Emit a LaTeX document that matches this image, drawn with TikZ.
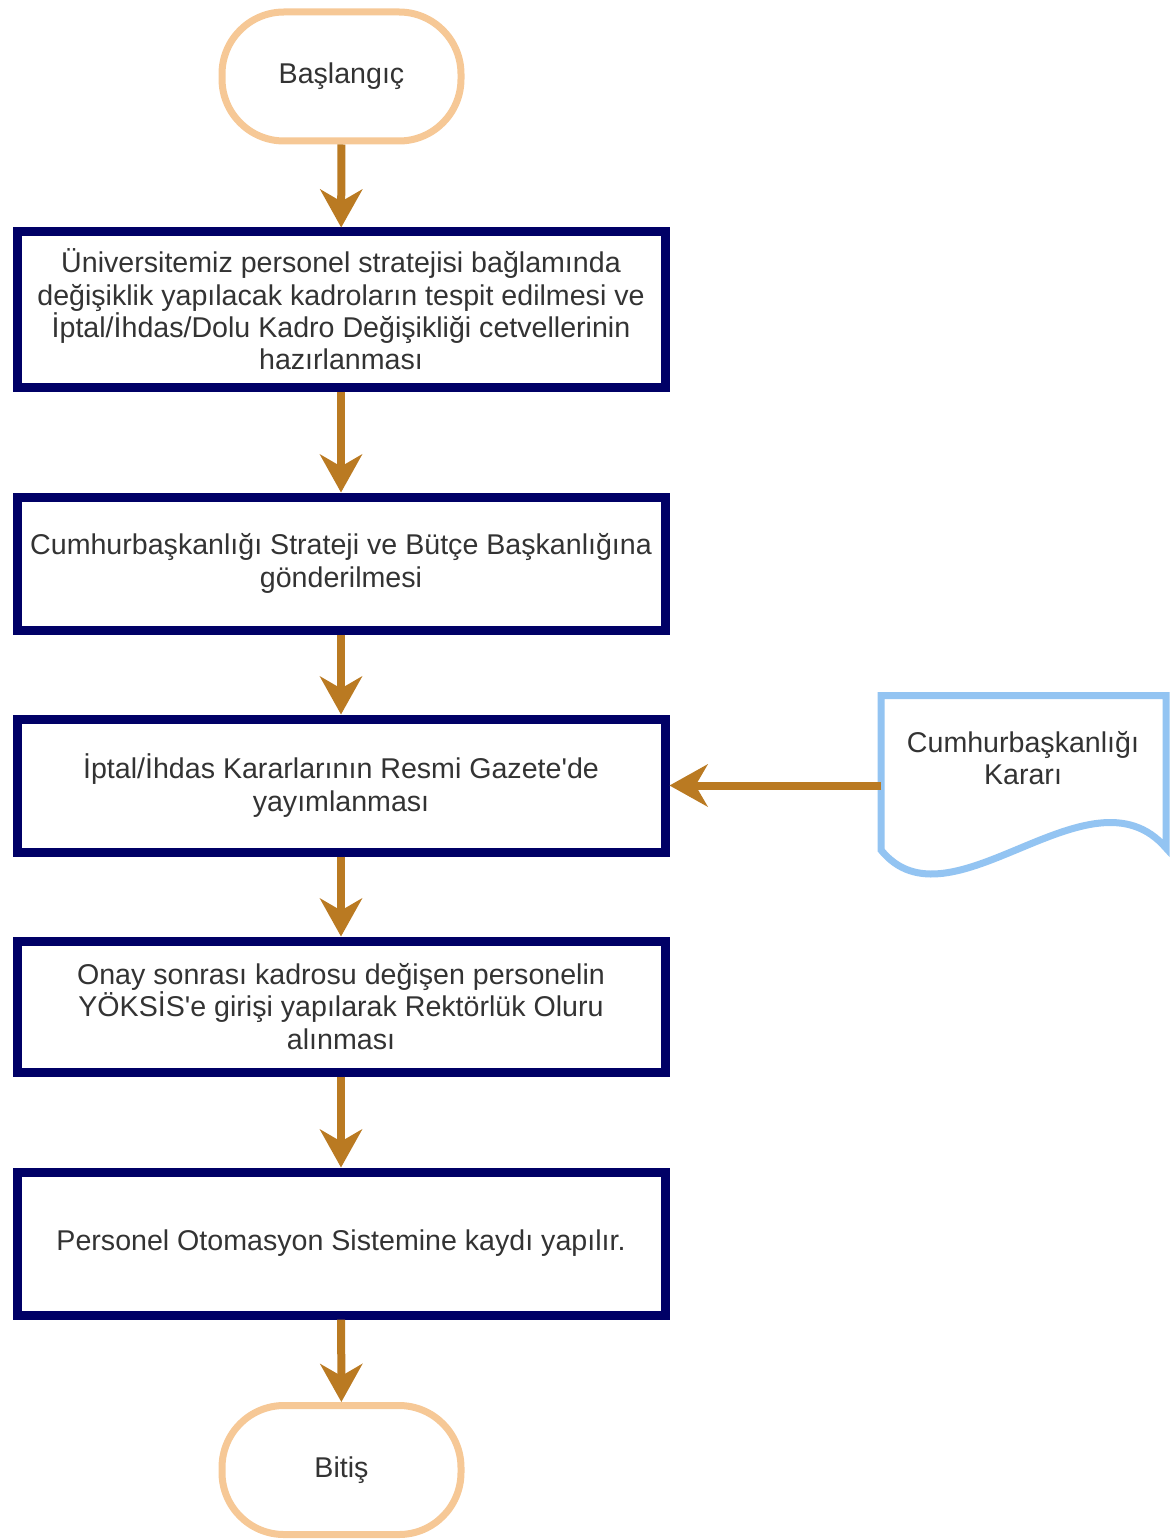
\documentclass[tikz,border=0pt]{standalone}
\usepackage{fontspec}
\setmainfont{Liberation Sans}
\usetikzlibrary{arrows.meta}
\definecolor{navy}{HTML}{000066}
\definecolor{arr}{HTML}{BA7A22}
\definecolor{termc}{HTML}{F6C896}
\definecolor{docc}{HTML}{93C4F2}
\definecolor{txt}{HTML}{333333}
\begin{document}
\begin{tikzpicture}[x=0.5pt,y=-0.5pt,
  every node/.style={font=\fontsize{14.3}{16.2}\selectfont, text=txt, align=center},
  procbox/.style={draw=navy, line width=4.5pt, fill=white, minimum width=324pt, inner sep=0pt},
  term/.style={draw=termc, line width=3.5pt, fill=white, rounded corners=31pt, minimum width=119.5pt, minimum height=64.5pt, inner sep=0pt},
  flow/.style={draw=arr, line width=4pt, -{Stealth[length=19pt,width=21pt,inset=6pt]}},
  docshape/.style={draw=docc, line width=3.5pt, fill=white}]
\useasboundingbox (0,0) rectangle (1172,1540);

\node[term] (start) at (341.5,76.5) {Başlangıç};
\node[procbox, minimum height=77.5pt] (b1) at (341,309.5) {Üniversitemiz personel stratejisi bağlamında\\değişiklik yapılacak kadroların tespit edilmesi ve\\İptal/İhdas/Dolu Kadro Değişikliği cetvellerinin\\hazırlanması};
\node[procbox, minimum height=66.5pt] (b2) at (341,563.5) {Cumhurbaşkanlığı Strateji ve Bütçe Başkanlığına\\gönderilmesi};
\node[procbox, minimum height=66.5pt] (b3) at (341,785.5) {İptal/İhdas Kararlarının Resmi Gazete\textquotesingle de\\yayımlanması};
\node[procbox, minimum height=65.5pt] (b4) at (341,1006.5) {Onay sonrası kadrosu değişen personelin\\YÖKSİS\textquotesingle e girişi yapılarak Rektörlük Oluru\\alınması};
\node[procbox, minimum height=71.5pt] (b5) at (341,1243.5) {Personel Otomasyon Sistemine kaydı yapılır.};
\node[term] (end) at (341.5,1470) {Bitiş};

\draw[docshape] (881,695.5) -- (1166,695.5) -- (1166,848) .. controls (1090,760) and (950,935) .. (881,850) -- cycle;
\node (doc) at (1023,758) {Cumhurbaşkanlığı\\Kararı};
\coordinate (dstart) at (881,785.5);

\draw[flow] (start) -- (b1);
\draw[flow] (b1) -- (b2);
\draw[flow] (b2) -- (b3);
\draw[flow] (b3) -- (b4);
\draw[flow] (b4) -- (b5);
\draw[flow] (b5) -- (end);
\draw[flow] (dstart) -- (dstart -| b3.east);
\end{tikzpicture}
\end{document}
